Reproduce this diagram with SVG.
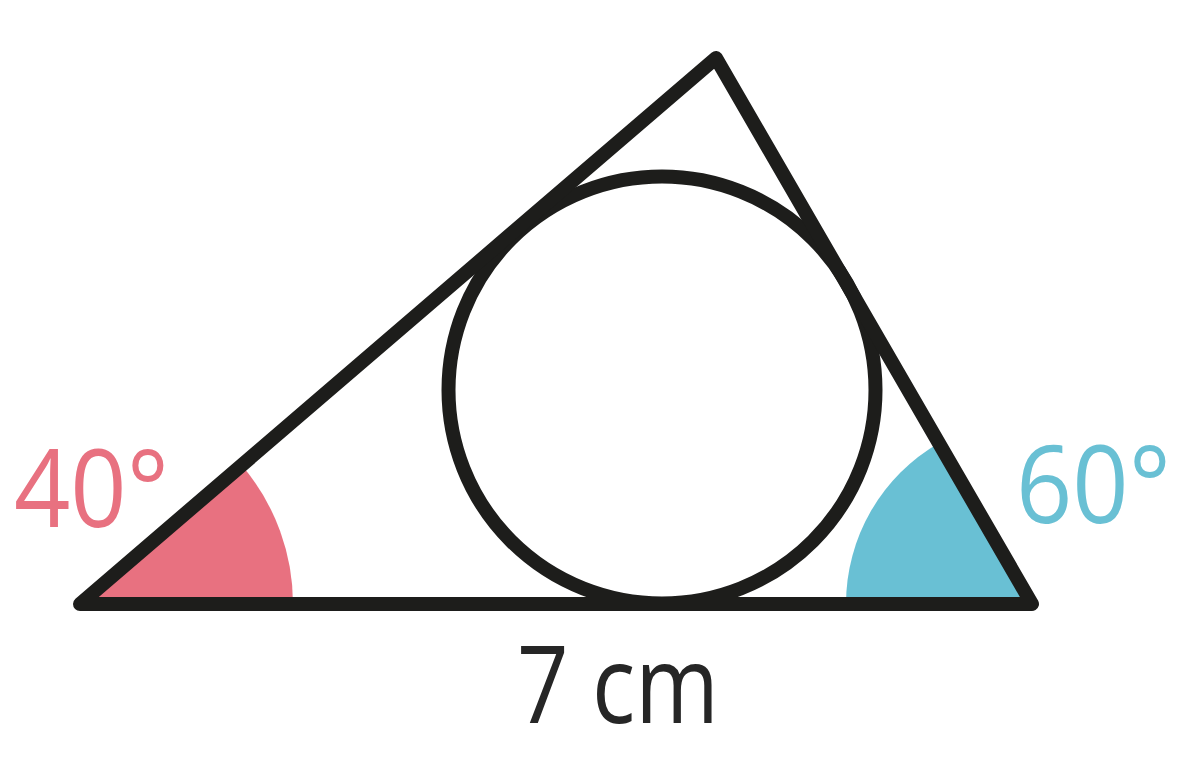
<svg xmlns="http://www.w3.org/2000/svg" width="1180" height="774" viewBox="0 0 1180 774">
<style>
.ln{fill:none;stroke:#1d1d1b;stroke-width:14;stroke-linejoin:round;stroke-linecap:round}
.lbl{font-family:"Open Sans","Noto Sans",sans-serif;font-size:108px}
</style>
<rect width="1180" height="774" fill="#ffffff"/>
<g id="angle-left">
<path d="M80,604 L293,604 A213,213 0 0 0 243.2,467.1 Z" fill="#e87180"/>
<text class="lbl" transform="translate(14,527) scale(0.913,1)" x="0" y="0" fill="#e87180">40°</text>
</g>
<g id="angle-right">
<path d="M1032,604 L846,604 A186,186 0 0 1 939,443 Z" fill="#69c0d4"/>
<text class="lbl" transform="translate(1016,523) scale(0.913,1)" x="0" y="0" fill="#69c0d4">60°</text>
</g>
<g id="circle">
<circle class="ln" cx="662" cy="390" r="213.5"/>
</g>
<g id="triangle">
<polygon class="ln" points="80,604 716,58 1032,604"/>
</g>
<g id="base-label">
<text class="lbl" x="517" y="723" fill="#262626" textLength="202" lengthAdjust="spacingAndGlyphs">7 cm</text>
</g>
</svg>
